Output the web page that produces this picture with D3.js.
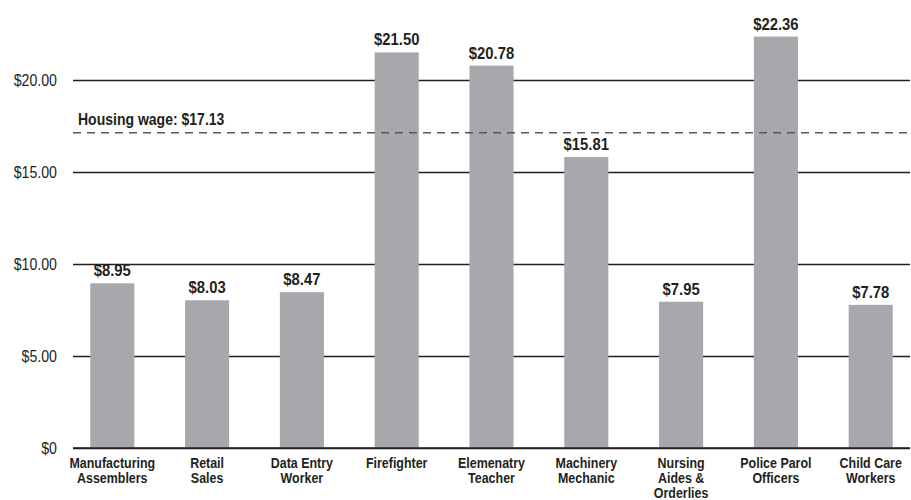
<!DOCTYPE html>
<html>
<head>
<meta charset="utf-8">
<script src="https://cdn.jsdelivr.net/npm/d3@7"></script>
<style>
  html, body { margin: 0; padding: 0; background: #fff; }
  svg { display: block; }
  text { font-family: "Liberation Sans", Arial, Helvetica, sans-serif; fill: #231f20; }
</style>
</head>
<body>
<svg id="chart" width="911" height="500"></svg>
<script>
// Hourly wages by occupation compared with the housing wage
const occupations = [
  ["Manufacturing", "Assemblers"],
  ["Retail", "Sales"],
  ["Data Entry", "Worker"],
  ["Firefighter"],
  ["Elemenatry", "Teacher"],
  ["Machinery", "Mechanic"],
  ["Nursing", "Aides &", "Orderlies"],
  ["Police Parol", "Officers"],
  ["Child Care", "Workers"]
];
const wages = [8.95, 8.03, 8.47, 21.50, 20.78, 15.81, 7.95, 22.36, 7.78];
const yTicks = [0, 5, 10, 15, 20];
const housingWage = 17.13;
const housingLabel = "Housing wage: $17.13";

const svg = d3.select("#chart");
const left = 73, right = 910, zeroY = 448, topY = 80;

// condensed type: horizontal squeeze applied to each label
const squeeze = { tick: 0.86, value: 0.9, ref: 0.85, cat: 0.83 };

const keys = occupations.map((d, i) => i);
const x = d3.scaleBand()
  .domain(keys)
  .range([left, right])
  .paddingInner(0.535)
  .paddingOuter(0.182);

const y = d3.scaleLinear().domain([0, 20]).range([zeroY, topY]);

const fmtTick = v => v === 0 ? "$0" : "$" + d3.format(".2f")(v);
const fmtVal = v => "$" + d3.format(".2f")(v);

// gridlines and tick labels
const tickPad = 16;
const yAxis = d3.axisLeft(y)
  .tickValues(yTicks)
  .tickSize(-(right - left))
  .tickPadding(tickPad)
  .tickFormat(fmtTick);

const gy = svg.append("g")
  .attr("transform", `translate(${left},0)`)
  .call(yAxis);
gy.select(".domain").remove();
gy.selectAll(".tick line").attr("stroke", "#231f20").attr("stroke-width", 1.6);
gy.selectAll(".tick text")
  .attr("font-size", 16.5)
  .attr("fill", "#2b2b2b")
  .style("font-family", '"Liberation Sans", Arial, sans-serif')
  .attr("x", -tickPad / squeeze.tick)
  .attr("transform", `scale(${squeeze.tick},1)`);

// bars
svg.append("g").selectAll("rect")
  .data(wages)
  .join("rect")
  .attr("x", (d, i) => x(i))
  .attr("width", x.bandwidth())
  .attr("y", d => y(d))
  .attr("height", d => y(0) - y(d))
  .attr("fill", "#a7a8ab");

// baseline redrawn over bars
svg.append("line")
  .attr("x1", left).attr("x2", right)
  .attr("y1", y(0)).attr("y2", y(0))
  .attr("stroke", "#231f20").attr("stroke-width", 1.6);

// housing wage reference line
svg.append("line")
  .attr("x1", left).attr("x2", right)
  .attr("y1", y(housingWage)).attr("y2", y(housingWage))
  .attr("stroke", "#58585a").attr("stroke-width", 1.5)
  .attr("stroke-dasharray", "8,6");

svg.append("text")
  .attr("transform", `translate(${left + 5},${y(housingWage) - 8}) scale(${squeeze.ref},1)`)
  .attr("font-size", 16.5)
  .attr("font-weight", "bold")
  .text(housingLabel);

// value labels above bars
svg.append("g").selectAll("text")
  .data(wages)
  .join("text")
  .attr("transform", (d, i) =>
    `translate(${x(i) + x.bandwidth() / 2},${y(d) - 7}) scale(${squeeze.value},1)`)
  .attr("text-anchor", "middle")
  .attr("font-size", 16.5)
  .attr("font-weight", "bold")
  .text(fmtVal);

// category labels, one line per tspan
const cat = svg.append("g").selectAll("text")
  .data(occupations)
  .join("text")
  .attr("transform", (d, i) =>
    `translate(${x(i) + x.bandwidth() / 2},468) scale(${squeeze.cat},1)`)
  .attr("text-anchor", "middle")
  .attr("font-size", 15)
  .attr("font-weight", "bold");
cat.selectAll("tspan")
  .data(d => d)
  .join("tspan")
  .attr("x", 0)
  .attr("dy", (d, i) => i === 0 ? 0 : 15)
  .text(d => d);
</script>
</body>
</html>
